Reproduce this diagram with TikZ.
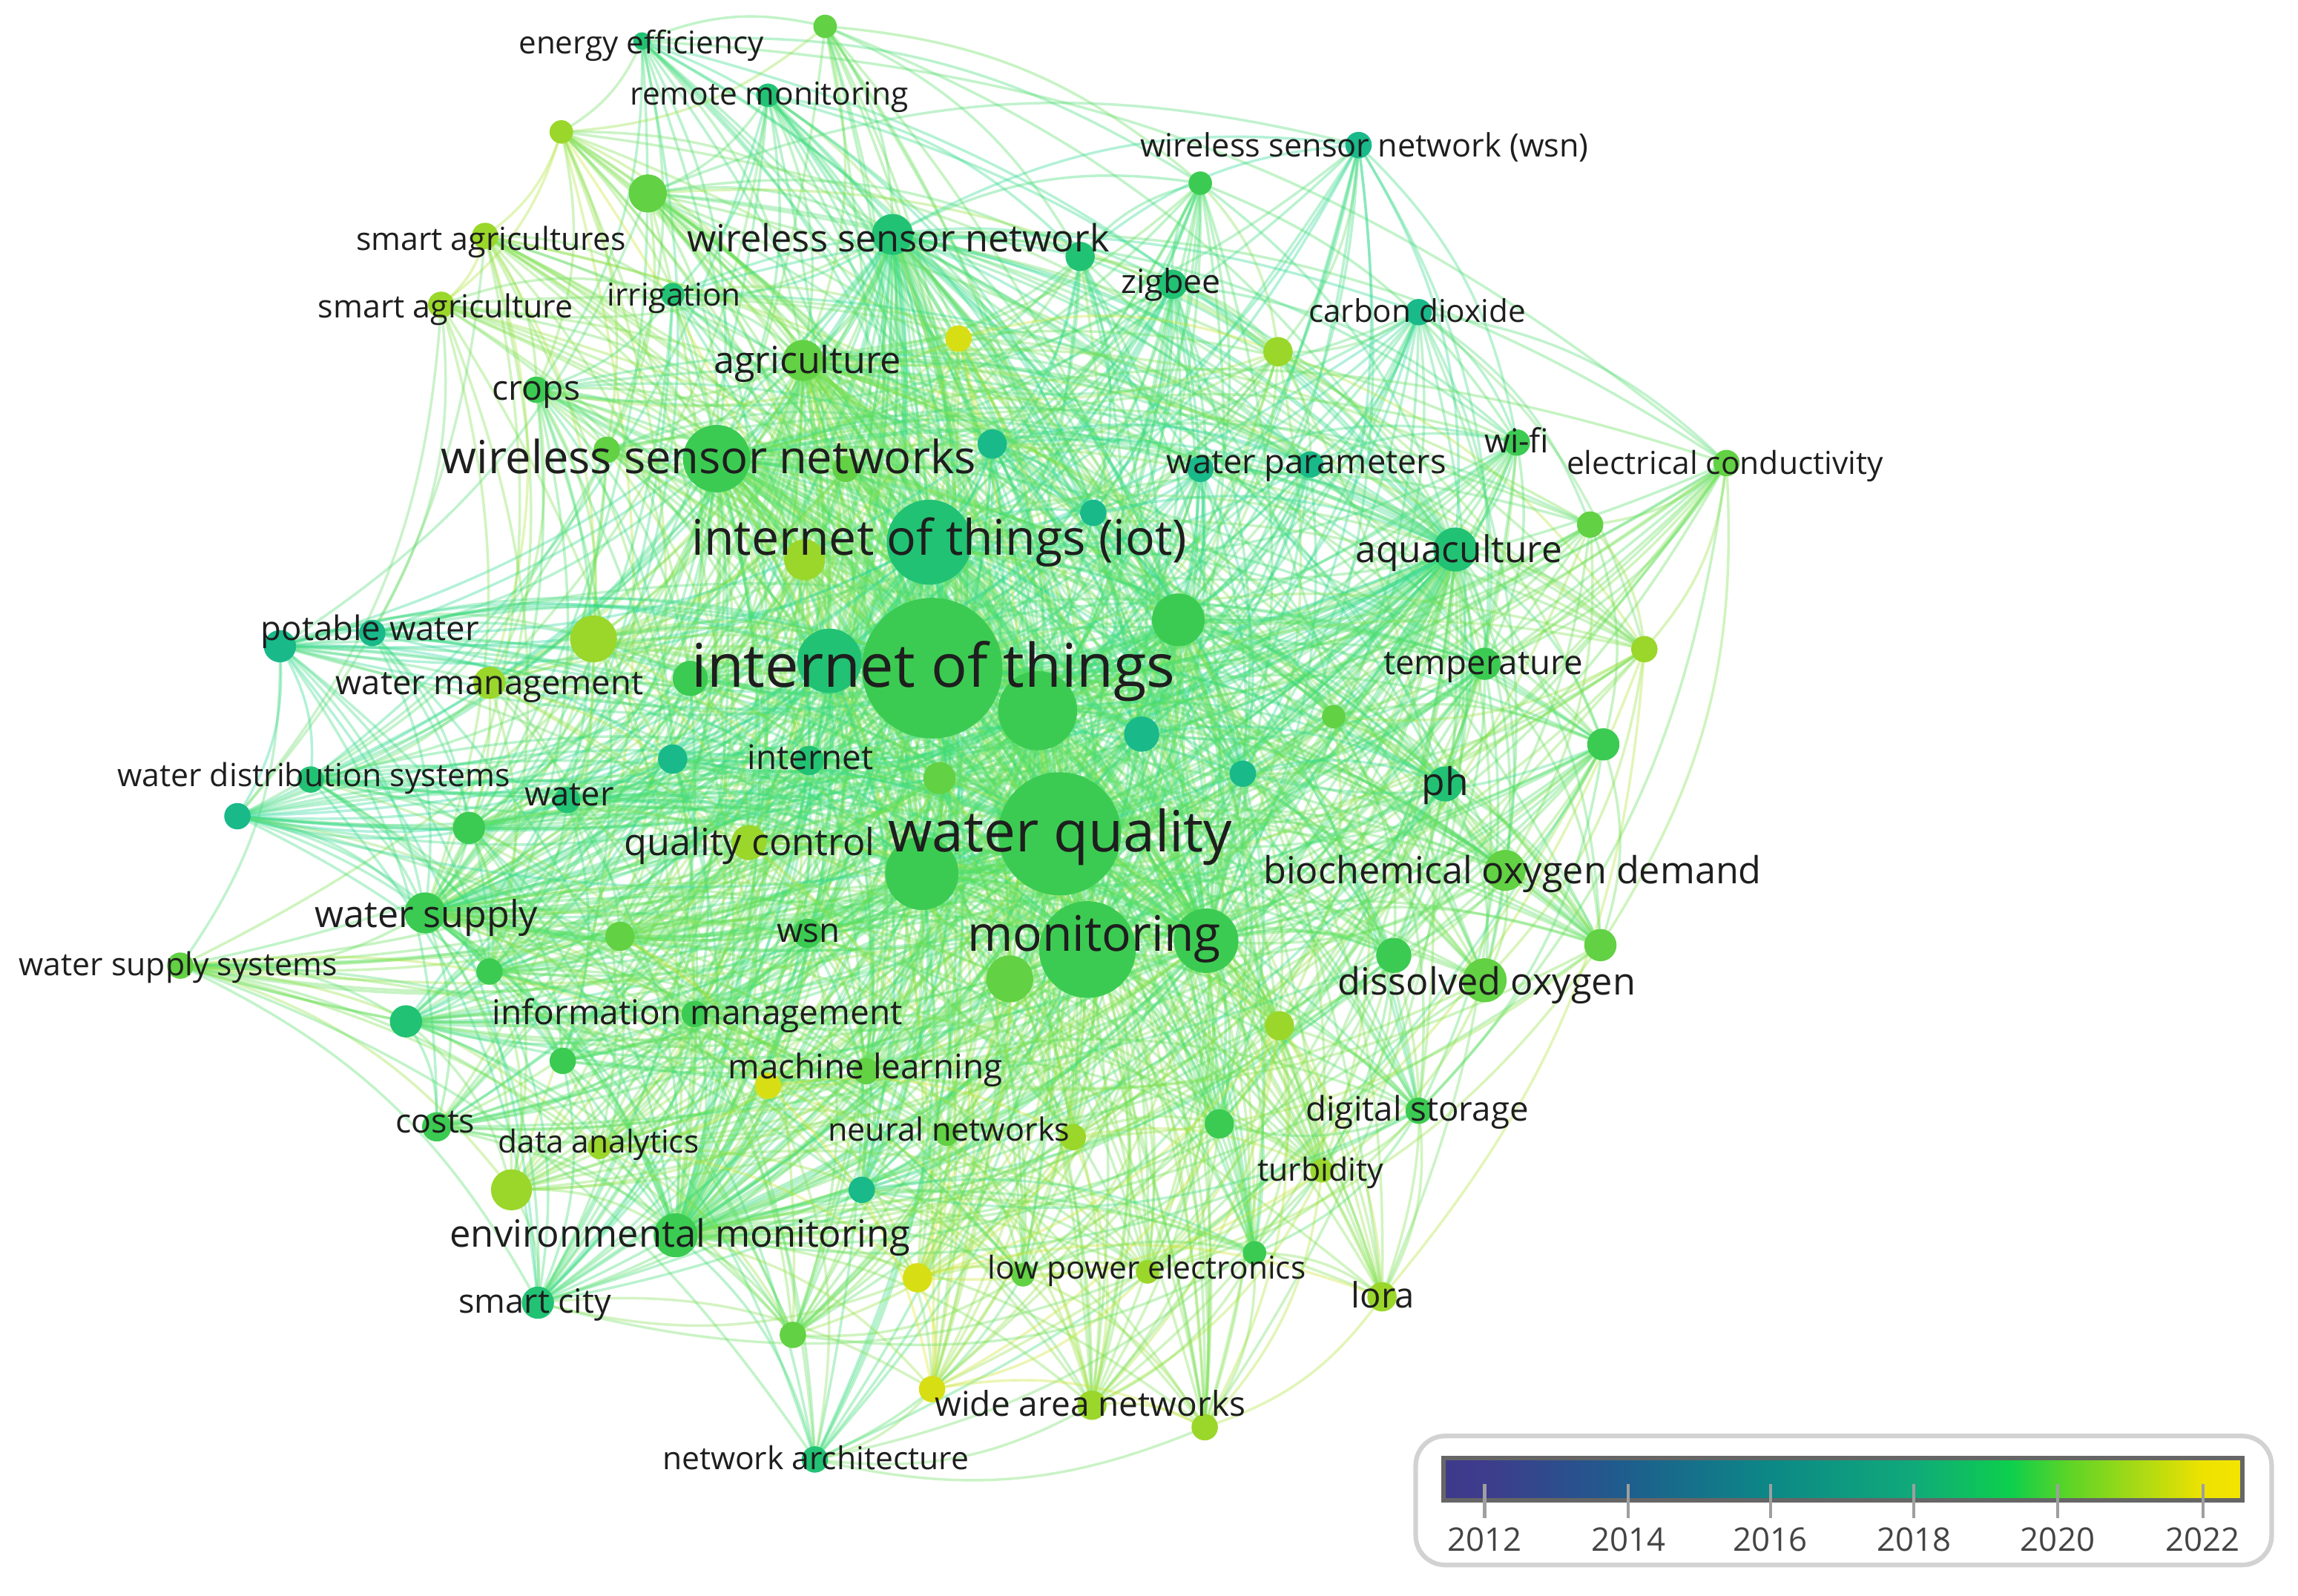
\documentclass[tikz,border=0pt]{standalone}
\usepackage{fontspec}
\setmainfont{Open Sans}
\usetikzlibrary{backgrounds}
\definecolor{cT}{HTML}{19B98A}
\definecolor{cTG}{HTML}{22C274}
\definecolor{cG}{HTML}{3CCB52}
\definecolor{cLG}{HTML}{62D143}
\definecolor{cYG}{HTML}{9AD72A}
\definecolor{cY}{HTML}{D8DE14}
\definecolor{ecT}{HTML}{2AD6A0}
\definecolor{ecTG}{HTML}{30DA88}
\definecolor{ecG}{HTML}{4EDE66}
\definecolor{ecLG}{HTML}{7AE04C}
\definecolor{ecYG}{HTML}{B0E23A}
\definecolor{ecY}{HTML}{E2E528}
\definecolor{txt}{HTML}{1E1E1E}
\definecolor{legtxt}{HTML}{444444}
\tikzset{
  kw/.style={circle, inner sep=0pt, draw=none},
  lbl/.style={inner sep=0pt, anchor=mid, text=txt},
  link/.style={line width=0.5pt, opacity=0.36},
  hublink/.style={line width=0.8pt, opacity=0.4},
  tick/.style={draw=gray!75, line width=0.6pt},
  yearlbl/.style={inner sep=0pt, anchor=mid, text=legtxt, font=\fontsize{6.3}{7}\selectfont},
}
\def\nodelist{%
1/438/28/6/TG/0, 2/563/18/8/LG/0, 3/524/65/8/TG/0, 4/383/90/8/YG/0, 5/442/132/13/LG/0,
6/331/161/9/YG/0, 7/609/160/14/TG/1, 8/301/208/9/YG/0, 9/459/201/8/TG/0, 10/737/175/10/TG/0,
11/800/194/10/TG/0, 12/819/125/8/G/0, 13/927/99/9/T/0, 14/968/213/9/T/0, 15/654/231/9/Y/0,
16/872/240/10/YG/0, 17/548/246/14/LG/1, 18/366/266/9/G/0, 19/489/313/23/G/1, 20/414/307/9/LG/0,
21/577/320/9/LG/0, 22/677/303/10/T/0, 23/819/320/9/T/0, 24/894/317/9/T/0, 25/1035/302/9/G/0,
26/1178/316/9/LG/0, 27/634/370/29/TG/1, 28/549/382/14/YG/0, 29/746/350/9/T/0, 30/993/375/15/TG/1,
31/1085/358/9/LG/0, 32/804/423/18/G/1, 33/191/441/11/T/0, 34/254/432/9/T/0, 35/405/436/16/YG/0,
36/334/466/11/YG/0, 37/471/463/12/G/0, 38/566/451/22/TG/1, 39/636/456/48/G/1, 40/708/485/27/G/1,
41/1013/453/11/G/0, 42/1122/443/9/YG/0, 43/910/489/8/LG/0, 44/779/501/12/T/0, 45/1094/508/11/G/0,
46/552/519/10/TG/0, 47/459/518/10/T/0, 48/848/528/9/T/0, 49/212/532/9/TG/0, 50/387/546/9/TG/0,
51/162/557/9/T/0, 52/320/565/11/G/0, 53/986/535/12/TG/0, 54/511/575/12/YG/0, 55/641/531/11/LG/0,
56/723/569/42/G/1, 57/629/596/25/G/1, 58/1027/594/14/LG/0, 59/290/623/14/G/1, 60/423/639/10/LG/0,
61/551/637/10/G/0, 62/742/648/33/G/1, 63/823/642/22/G/1, 64/123/659/9/LG/0, 65/334/663/9/G/0,
66/951/652/12/G/0, 67/1013/669/15/LG/0, 68/1092/645/11/LG/0, 69/689/668/16/LG/0, 70/474/692/9/G/0,
71/277/697/11/TG/0, 72/384/724/9/G/0, 73/591/731/9/LG/0, 74/524/741/9/Y/0, 75/873/700/10/YG/0,
76/968/758/9/G/0, 77/298/769/10/G/0, 78/409/783/8/YG/0, 79/646/774/8/LG/0, 80/732/776/9/YG/0,
81/832/767/10/G/0, 82/902/799/8/YG/0, 83/349/812/14/YG/0, 84/588/812/9/T/0, 85/461/843/15/G/1,
86/626/872/10/Y/0, 87/698/870/8/LG/0, 88/783/868/8/YG/0, 89/856/855/8/G/0, 90/943/885/10/YG/0,
91/367/889/11/TG/0, 92/541/911/9/LG/0, 93/636/948/9/Y/0, 94/745/959/10/YG/0, 95/822/974/9/YG/0,
96/556/996/9/TG/0}
\def\labellist{%
1/437.5/28/167/energy efficiency, 2/525/63/190/remote monitoring, 3/335/162/184/smart agricultures,
4/613/162/288/wireless sensor network, 5/304/208/174/smart agriculture, 6/460/200/91/irrigation,
7/931/98/306/wireless sensor network (wsn), 8/799/191/68/zigbee, 9/967/211/148/carbon dioxide,
10/551/245/128/agriculture, 11/366/264/60/crops, 12/483.5/312/365/wireless sensor networks,
13/891.5/314/191/water parameters, 14/1035/300/44/wi-fi, 15/1177/315/216/electrical conductivity,
16/641/367/338/internet of things (iot), 17/995.5/374/141/aquaculture, 18/252.5/428/149/potable water,
19/334/465/210/water management, 20/637/455/330/internet of things, 21/1012/451/136/temperature,
22/553/516/86/internet, 23/214/528/268/water distribution systems, 24/388.5/541/61/water,
25/986/533/32/ph, 26/511.5/574/171/quality control, 27/723.5/568/235/water quality,
28/1032/593/340/biochemical oxygen demand, 29/291/623/152/water supply, 30/551.5/634/43/wsn,
31/746.5/637/173/monitoring, 32/121.5/657/217/water supply systems, 33/1014.5/669/203/dissolved oxygen,
34/476/690/280/information management, 35/590.5/727/187/machine learning, 36/967/756/152/digital storage,
37/297/764/54/costs, 38/408.5/778/137/data analytics, 39/647.5/770/165/neural networks,
40/901/797/86/turbidity, 41/464/841/314/environmental monitoring, 42/782.5/864/217/low power electronics,
43/943.5/883/43/lora, 44/365/887/104/smart city, 45/744/957/212/wide area networks,
46/556.5/994/209/network architecture}
\newsavebox{\lblbox}
\begin{document}
\foreach \k/\x/\y/\w/\lab in \labellist {%
  \sbox{\lblbox}{\lab}%
  \pgfmathsetmacro\sc{\w*0.28453/\wd\lblbox}%
  \expandafter\xdef\csname lsc\k\endcsname{\sc}%
}%
\begin{tikzpicture}[x=0.1mm,y=-0.1mm]
\useasboundingbox (0,0) rectangle (1568,1089);
% keyword circles: large ones first, then small ones on top
\foreach \i/\x/\y/\r/\c/\h in \nodelist {
  \expandafter\xdef\csname nx\i\endcsname{\x}
  \expandafter\xdef\csname ny\i\endcsname{\y}
  \expandafter\xdef\csname nc\i\endcsname{ec\c}
  \expandafter\xdef\csname nh\i\endcsname{\h}
  \ifnum\r>19\relax
    \node[kw, fill=c\c, minimum size=\r*0.2mm] (n\i) at (\x,\y) {};
  \fi
}
\foreach \i/\x/\y/\r/\c/\h in \nodelist {
  \ifnum\r<20\relax
    \node[kw, fill=c\c, minimum size=\r*0.2mm] (n\i) at (\x,\y) {};
  \fi
}
% links
\begin{scope}[on background layer]
\foreach \i in {1,...,95}{
  \pgfmathtruncatemacro\jstart{\i+1}
  \foreach \j in {\jstart,...,96}{
    \pgfmathsetmacro\dd{veclen((\csname nx\i\endcsname-\csname nx\j\endcsname)/100,(\csname ny\i\endcsname-\csname ny\j\endcsname)/100)}
    \pgfmathtruncatemacro\pr{mod(mod(\i*\i,97)*3+mod(\j*\j,89)*7+mod(\i*\j,83),100)}
    \pgfmathtruncatemacro\hh{\csname nh\i\endcsname+\csname nh\j\endcsname}
    \pgfmathtruncatemacro\lim{\hh>0 ? 78 : (\dd<3 ? 42 : (\dd<5.5 ? 13 : 4))}
    \ifnum\pr<\lim\relax
      \edef\ec{\csname nc\i\endcsname!50!\csname nc\j\endcsname}
      \ifnum\hh=2\relax
        \draw[hublink, draw=\ec] (n\i.center) to[bend left=18] (n\j.center);
      \else
        \draw[link, draw=\ec] (n\i.center) to[bend left=18] (n\j.center);
      \fi
    \fi
  }
}
\end{scope}
% labels
\foreach \k/\x/\y/\w/\lab in \labellist {
  \node[lbl, scale=\csname lsc\k\endcsname] (l\k) at (\x,\y+3) {\lab};
}
% legend
\node[draw=gray!35, line width=0.9pt, fill=white, rounded corners=2mm, minimum width=584*0.1mm, minimum height=88*0.1mm, inner sep=0pt] (legend) at (1258,1024) {};
\shade[left color={rgb,255:red,62;green,58;blue,139}, right color={rgb,255:red,62;green,60;blue,140}] (985,995) rectangle (1013,1024);
\shade[left color={rgb,255:red,62;green,60;blue,140}, right color={rgb,255:red,30;green,94;blue,141}] (1013,995) rectangle (1111,1024);
\shade[left color={rgb,255:red,30;green,94;blue,141}, right color={rgb,255:red,12;green,136;blue,134}] (1111,995) rectangle (1208,1024);
\shade[left color={rgb,255:red,12;green,136;blue,134}, right color={rgb,255:red,16;green,170;blue,122}] (1208,995) rectangle (1306,1024);
\shade[left color={rgb,255:red,16;green,170;blue,122}, right color={rgb,255:red,13;green,207;blue,76}] (1306,995) rectangle (1372,1024);
\shade[left color={rgb,255:red,13;green,207;blue,76}, right color={rgb,255:red,90;green,212;blue,40}] (1372,995) rectangle (1410,1024);
\shade[left color={rgb,255:red,90;green,212;blue,40}, right color={rgb,255:red,170;green,218;blue,20}] (1410,995) rectangle (1460,1024);
\shade[left color={rgb,255:red,170;green,218;blue,20}, right color={rgb,255:red,238;green,226;blue,0}] (1460,995) rectangle (1503,1024);
\shade[left color={rgb,255:red,238;green,226;blue,0}, right color={rgb,255:red,244;green,228;blue,0}] (1503,995) rectangle (1530,1024);
\node[draw=gray!80!black, line width=0.8pt, minimum width=545*0.1mm, minimum height=29*0.1mm, inner sep=0pt] (bar) at (1257.5,1009.5) {};
\foreach \yr/\tx in {2012/1013, 2014/1111, 2016/1208, 2018/1306, 2020/1404, 2022/1503} {
  \coordinate (t\yr) at (\tx,1013);
  \coordinate (b\yr) at (\tx,1036);
  \draw[tick] (t\yr) -- (b\yr);
  \node[yearlbl] (y\yr) at (\tx,1049) {\yr};
}
\end{tikzpicture}
\end{document}
